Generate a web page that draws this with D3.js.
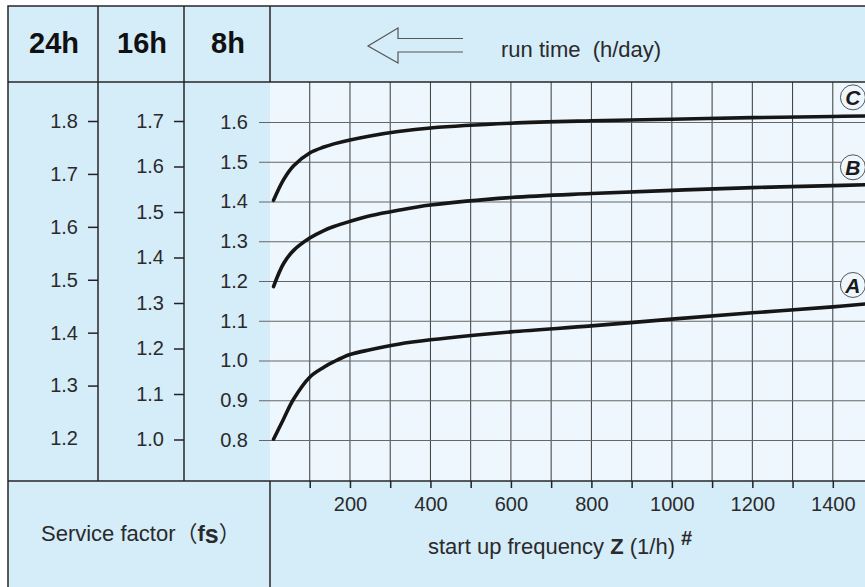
<!DOCTYPE html>
<html>
<head>
<meta charset="utf-8">
<script src="https://cdn.jsdelivr.net/npm/d3@7"></script>
<style>
  body { margin: 0; background: #fff; }
  svg { display: block; font-family: "Liberation Sans", Arial, Helvetica, sans-serif; }
  .axis text { font-size: 20px; fill: #2a2a2a; }
  .axis .domain { display: none; }
</style>
</head>
<body>
<div id="chart"></div>
<script>
// start up frequency Z (1/h) where the curves were read
const startFreq = [10, 35, 60, 100, 135, 160, 200, 250, 320, 400, 600, 800, 1000, 1200, 1400, 1480];
// curve values read on the 8h scale
const curveA = [0.802, 0.853, 0.903, 0.958, 0.983, 0.997, 1.015, 1.027, 1.041, 1.052, 1.072, 1.087, 1.104, 1.120, 1.135, 1.142];
const curveB = [1.186, 1.244, 1.277, 1.308, 1.327, 1.337, 1.350, 1.364, 1.378, 1.391, 1.410, 1.420, 1.428, 1.435, 1.440, 1.442];
const curveC = [1.403, 1.455, 1.490, 1.522, 1.537, 1.545, 1.555, 1.565, 1.576, 1.585, 1.597, 1.603, 1.607, 1.611, 1.614, 1.615];
const curveNames = ['A', 'B', 'C'];
const curveLabelFs = [1.19, 1.486, 1.662];

const runTimes = ['24h', '16h', '8h'];
const ticks24h = [1.2, 1.3, 1.4, 1.5, 1.6, 1.7, 1.8];
const ticks16h = [1.0, 1.1, 1.2, 1.3, 1.4, 1.5, 1.6, 1.7];
const ticks8h = [0.8, 0.9, 1.0, 1.1, 1.2, 1.3, 1.4, 1.5, 1.6];
const freqTicks = [100, 200, 300, 400, 500, 600, 700, 800, 900, 1000, 1100, 1200, 1300, 1400];

class ServiceFactorChart {

    constructor(_config) {
        this.config = {
            parentElement: _config.parentElement,
            containerWidth: _config.containerWidth || 865,
            containerHeight: _config.containerHeight || 587
        }
        this.initVis();
    }

    initVis() {
        let vis = this;

        vis.cellColor = '#d5ecf9';
        vis.plotColor = '#eef7fd';
        vis.frameColor = '#262626';

        // layout of the table-like frame
        vis.left = 8;
        vis.top = 6;
        vis.headerBottom = 82;
        vis.plotBottom = 481;
        vis.colEdges = [8, 98, 184, 270];

        vis.xScale = d3.scaleLinear().domain([0, 1480]).range([269.5, 865]);
        vis.y8 = d3.scaleLinear().domain([0.8, 1.6]).range([440, 122]);
        vis.y16 = d3.scaleLinear().domain([1.0, 1.7]).range([439.5, 121]);
        vis.y24 = d3.scaleLinear().domain([1.2, 1.8]).range([438.5, 121]);

        vis.svg = d3.select(vis.config.parentElement)
            .append('svg')
            .attr('width', vis.config.containerWidth)
            .attr('height', vis.config.containerHeight);

        vis.renderVis();
    }

    renderVis() {
        let vis = this;
        const W = vis.config.containerWidth + 30;
        const H = vis.config.containerHeight + 30;

        // background cells
        vis.svg.append('rect')
            .attr('x', vis.left).attr('y', vis.top)
            .attr('width', W).attr('height', H)
            .attr('fill', vis.cellColor)
            .attr('stroke', vis.frameColor).attr('stroke-width', 1.5);

        vis.svg.append('rect')
            .attr('x', vis.colEdges[3]).attr('y', vis.headerBottom)
            .attr('width', W).attr('height', vis.plotBottom - vis.headerBottom)
            .attr('fill', vis.plotColor);

        // vertical grid lines
        vis.svg.append('g')
            .selectAll('line')
            .data(freqTicks)
            .join('line')
            .attr('x1', d => vis.xScale(d)).attr('x2', d => vis.xScale(d))
            .attr('y1', vis.headerBottom).attr('y2', vis.plotBottom)
            .attr('stroke', '#3a3a3a').attr('stroke-width', 1);

        // 8h axis doubles as horizontal grid
        const axis8 = d3.axisLeft(vis.y8)
            .tickValues(ticks8h)
            .tickSize(-(W))
            .tickPadding(11)
            .tickFormat(d3.format('.1f'));
        vis.svg.append('g')
            .attr('class', 'axis')
            .attr('transform', 'translate(259,0)')
            .call(axis8)
            .call(g => g.selectAll('.tick line').attr('stroke', '#666').attr('stroke-width', 1));

        const axis16 = d3.axisLeft(vis.y16)
            .tickValues(ticks16h)
            .tickSize(10)
            .tickPadding(10)
            .tickFormat(d3.format('.1f'));
        vis.svg.append('g')
            .attr('class', 'axis')
            .attr('transform', `translate(${vis.colEdges[2]},0)`)
            .call(axis16)
            .call(g => g.selectAll('.tick line').attr('stroke', '#222').attr('stroke-width', 1.5));

        const axis24 = d3.axisLeft(vis.y24)
            .tickValues(ticks24h)
            .tickSize(10)
            .tickPadding(10)
            .tickFormat(d3.format('.1f'));
        vis.svg.append('g')
            .attr('class', 'axis')
            .attr('transform', `translate(${vis.colEdges[1]},0)`)
            .call(axis24)
            .call(g => g.selectAll('.tick line').attr('stroke', '#222').attr('stroke-width', 1.5))
            .call(g => g.selectAll('.tick').filter(d => d === 1.2).select('line').remove());

        // x axis below the plot
        const xAxis = d3.axisBottom(vis.xScale)
            .tickValues(freqTicks)
            .tickSize(7)
            .tickPadding(9)
            .tickFormat(d => d % 200 === 0 ? d : '');
        vis.svg.append('g')
            .attr('class', 'axis')
            .attr('transform', `translate(0,${vis.plotBottom})`)
            .call(xAxis)
            .call(g => g.selectAll('.tick line').attr('stroke', '#222').attr('stroke-width', 1.5));

        // frame lines
        const frame = vis.svg.append('g')
            .attr('stroke', vis.frameColor).attr('stroke-width', 1.5);
        frame.append('line')
            .attr('x1', vis.left).attr('x2', W)
            .attr('y1', vis.headerBottom).attr('y2', vis.headerBottom);
        frame.append('line')
            .attr('x1', vis.left).attr('x2', W)
            .attr('y1', vis.plotBottom).attr('y2', vis.plotBottom);
        frame.selectAll('.col')
            .data(vis.colEdges.slice(1, 3))
            .join('line')
            .attr('x1', d => d).attr('x2', d => d)
            .attr('y1', vis.top).attr('y2', vis.plotBottom);
        frame.append('line')
            .attr('x1', vis.colEdges[3]).attr('x2', vis.colEdges[3])
            .attr('y1', vis.top).attr('y2', vis.headerBottom);
        frame.append('line')
            .attr('x1', vis.colEdges[3]).attr('x2', vis.colEdges[3])
            .attr('y1', vis.plotBottom).attr('y2', H);

        // curves
        vis.line = d3.line()
            .x((d, i) => vis.xScale(startFreq[i]))
            .y(d => vis.y8(d))
            .curve(d3.curveCatmullRom.alpha(0.5));

        vis.svg.append('g')
            .selectAll('path')
            .data([curveA, curveB, curveC])
            .join('path')
            .attr('d', vis.line)
            .attr('fill', 'none')
            .attr('stroke', '#161616')
            .attr('stroke-width', 3.6)
            .attr('stroke-linecap', 'round');

        // circled curve names
        const labels = vis.svg.append('g')
            .selectAll('g')
            .data(curveNames)
            .join('g')
            .attr('transform', (d, i) => `translate(${vis.xScale(1450)},${vis.y8(curveLabelFs[i])})`);
        labels.append('circle')
            .attr('r', 12.5)
            .attr('fill', vis.plotColor)
            .attr('stroke', '#555').attr('stroke-width', 1);
        labels.append('text')
            .attr('text-anchor', 'middle')
            .attr('dy', '0.36em')
            .attr('font-size', 21)
            .attr('font-weight', 'bold')
            .attr('font-style', 'italic')
            .attr('fill', '#1a1a1a')
            .text(d => d);

        // header
        vis.svg.append('g')
            .selectAll('text')
            .data(runTimes)
            .join('text')
            .attr('x', (d, i) => (vis.colEdges[i] + vis.colEdges[i + 1]) / 2 + 1)
            .attr('y', 53)
            .attr('text-anchor', 'middle')
            .attr('font-size', 29)
            .attr('font-weight', 'bold')
            .attr('fill', '#111')
            .text(d => d);

        vis.svg.append('path')
            .attr('d', 'M463,38.5 L398,38.5 L398,28 L368,46 L398,63 L398,52 L463,52')
            .attr('fill', vis.cellColor)
            .attr('stroke', '#555')
            .attr('stroke-width', 1.2);

        vis.svg.append('text')
            .attr('x', 501).attr('y', 57)
            .attr('font-size', 22)
            .attr('fill', '#2a2a2a')
            .style('white-space', 'pre')
            .text('run time  (h/day)');

        // axis titles
        const xTitle = vis.svg.append('text')
            .attr('x', 428).attr('y', 554)
            .attr('font-size', 22)
            .attr('fill', '#2a2a2a')
            .style('white-space', 'pre');
        xTitle.append('tspan').text('start up frequency ');
        xTitle.append('tspan').attr('font-weight', 'bold').text('Z');
        xTitle.append('tspan').text(' (1/h)');
        xTitle.append('tspan').attr('dx', 6).attr('dy', -9)
            .attr('font-size', 20).attr('font-weight', 'bold').text('#');

        const yTitle = vis.svg.append('text')
            .attr('x', 41).attr('y', 541)
            .attr('font-size', 22)
            .attr('fill', '#2a2a2a');
        yTitle.append('tspan').text('Service factor');
        yTitle.append('tspan').style('font-family', '"Noto Sans CJK JP", sans-serif').text('（');
        yTitle.append('tspan').attr('font-weight', 'bold').text('f');
        yTitle.append('tspan').attr('font-weight', 'bold').attr('font-size', 25).attr('dy', 2).text('s');
        yTitle.append('tspan').attr('dy', -2).style('font-family', '"Noto Sans CJK JP", sans-serif').text('）');
    }
}

const chart = new ServiceFactorChart({ parentElement: '#chart' });
</script>
</body>
</html>
